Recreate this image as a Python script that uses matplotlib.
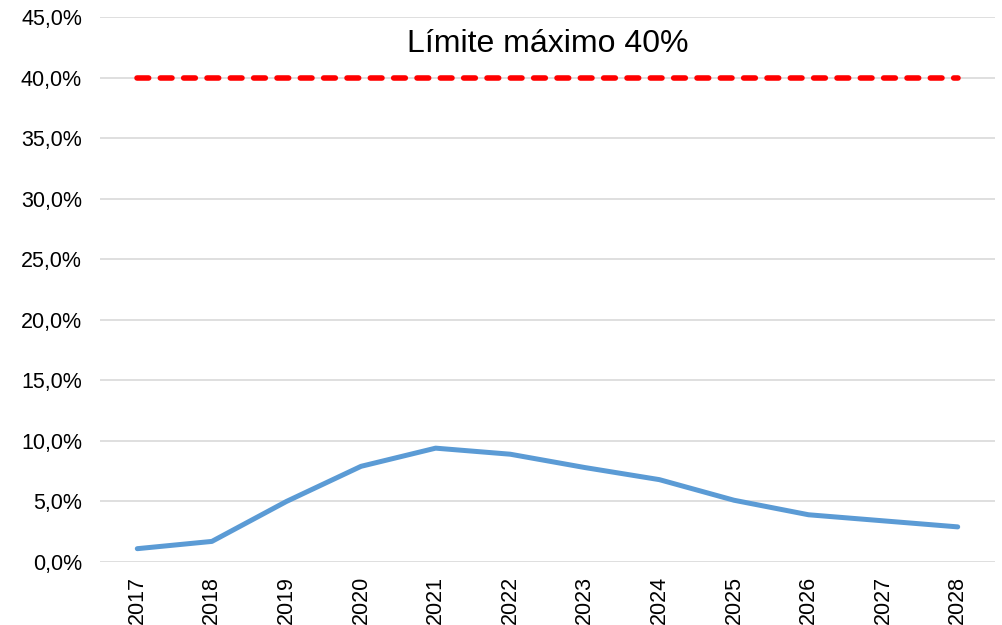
import matplotlib
matplotlib.use('Agg')
import matplotlib.pyplot as plt
from matplotlib.ticker import FuncFormatter

plt.rcParams['font.family'] = ['Liberation Sans', 'DejaVu Sans']

years = ['2017', '2018', '2019', '2020', '2021', '2022',
         '2023', '2024', '2025', '2026', '2027', '2028']
values = [1.1, 1.7, 5.0, 7.9, 9.4, 8.9, 7.8, 6.8, 5.1, 3.9, 3.4, 2.9]
limit = [40.0] * len(years)
y_ticks = [0, 5, 10, 15, 20, 25, 30, 35, 40, 45]

fig = plt.figure(figsize=(10.03, 6.25), dpi=100)
ax = fig.add_axes([100 / 1003, 1 - 562 / 625, 895 / 1003, 545 / 625])

x = list(range(len(years)))
ax.plot(x, limit, color='#FF0000', linewidth=4.0, linestyle=(0, (2.1, 2.1)),
        dash_capstyle='round', zorder=3)
ax.plot(x, values, color='#5B9BD5', linewidth=3.6, solid_capstyle='round', zorder=3)

ax.text(5.5, 42.8, 'Límite máximo 40%', ha='center', va='center', fontsize=23)

ax.set_xlim(-0.5, len(years) - 0.5)
ax.set_ylim(0, 45)
ax.set_xticks(x)
ax.set_xticklabels(years, rotation=90, fontsize=15.5)
ax.set_yticks(y_ticks)
ax.yaxis.set_major_formatter(FuncFormatter(lambda v, p: f'{v:.1f}%'.replace('.', ',')))
ax.tick_params(axis='y', labelsize=15.5, length=0, pad=13)
ax.tick_params(axis='x', length=0, pad=10)
ax.grid(axis='y', color='#D9D9D9', linewidth=1.2)
ax.set_axisbelow(True)
for s in ax.spines.values():
    s.set_visible(False)

plt.savefig('out.png', dpi=100)
